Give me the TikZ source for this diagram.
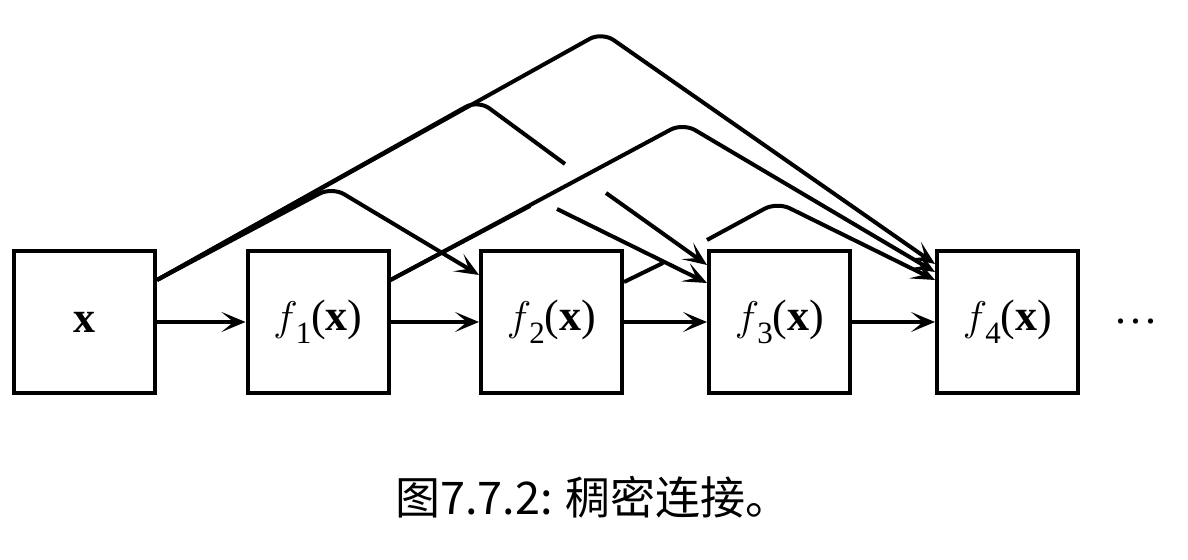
\documentclass[tikz,border=0pt]{standalone}
\usepackage{fontspec}
\setmainfont{Liberation Serif}
\newfontfamily\cjkfont{Noto Sans CJK SC}
\usetikzlibrary{calc,arrows.meta}
\tikzset{
	block/.style={draw, line width=2pt, minimum width=70.5pt, minimum height=71pt, inner sep=0pt, font=\fontsize{22}{26}\selectfont},
	link/.style={line width=2pt, rounded corners=7pt, -{Stealth[length=12pt,width=10pt,inset=6pt]}},
}
\newcommand{\layerout}[1]{$f$\kern-1pt\raisebox{-0.3em}{\fontsize{15.5}{16}\selectfont #1}(\textbf{x})}

\begin{document}
\begin{tikzpicture}[x=0.5pt, y=-0.5pt]
		%%%%% START %%%%%
		\useasboundingbox (0,0) rectangle (1188,560);
		
		\node[block] (x) at (84.5,322) {\textbf{x}};
		\node[block] (f1) at (318,322) {\layerout{1}};
		\node[block] (f2) at (551.5,322) {\layerout{2}};
		\node[block] (f3) at (779.5,322) {\layerout{3}};
		\node[block] (f4) at (1007.5,322) {\layerout{4}};
		\node[font=\fontsize{22}{26}\selectfont] (dots) at (1136,322) {.\kern2.2pt.\kern2.2pt.};
		
		\draw[link] (x) -- (f1);
		\draw[link] (f1) -- (f2);
		\draw[link] (f2) -- (f3);
		\draw[link] (f3) -- (f4);
		
		\draw[link] ($(x.north east)+(0,31)$) -- (332,187) -- ($(f2.north west)+(0,26)$);
		\draw[link] ($(x.north east)+(0,31)$) -- (478,100) -- (565,164) (606,193) -- ($(f3.north west)+(0,16)$);
		\draw[link] ($(x.north east)+(0,31)$) -- (602,32) -- ($(f4.north west)+(0,15)$);
		
		\draw[link] ($(f1.north east)+(0,31)$) -- (530,206) (557,209) -- ($(f3.north west)+(0,34)$);
		\draw[link] ($(f1.north east)+(0,31)$) -- (683,123) -- ($(f4.north west)+(0,23)$);
		
		\draw[link] ($(f2.north east)+(0,33)$) -- (663,263) (707,240) -- (777,202) -- ($(f4.north west)+(0,31)$);
		
		\node[font=\cjkfont\fontsize{22.5}{26}\selectfont] (caption) at (593,497) {图7.7.2: 稠密连接。};
		%%%%% END %%%%%
\end{tikzpicture}
\end{document}
